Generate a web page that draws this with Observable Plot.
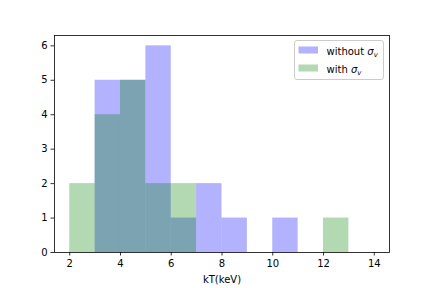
<!DOCTYPE html>
<html>
<head>
<meta charset="utf-8">
<script src="https://cdn.jsdelivr.net/npm/d3@7"></script>
<script src="https://cdn.jsdelivr.net/npm/@observablehq/plot@0.6"></script>
<style>
  html, body { margin: 0; padding: 0; background: #fff; }
  #chart svg { font-family: "DejaVu Sans", sans-serif; }
</style>
</head>
<body>
<div id="chart"></div>
<script>
// Histogram bins (left edges), width 1 keV
const binStart = [2, 3, 4, 5, 6, 7, 8, 9, 10, 11, 12, 13];
const binWidth = 1;
const withoutSigma = [0, 5, 5, 6, 1, 2, 1, 0, 1, 0, 0, 0];
const withSigma    = [2, 4, 5, 2, 2, 0, 0, 0, 0, 0, 1, 0];
const xTicks = [2, 4, 6, 8, 10, 12, 14];
const yTicks = [0, 1, 2, 3, 4, 5, 6];
const seriesNames = ["without", "with"];
const seriesColors = ["blue", "green"];
const xLabel = "kT(keV)";

const rows = (vals) => binStart.map((b, i) => ({x1: b, x2: b + binWidth, y: vals[i]})).filter(d => d.y > 0);

const plot = Plot.plot({
  width: 432,
  height: 288,
  marginLeft: 54,
  marginRight: 43,
  marginTop: 35,
  marginBottom: 36,
  style: {fontFamily: "DejaVu Sans, sans-serif", fontSize: "10px", color: "black", background: "white"},
  x: {domain: [1.4, 14.6]},
  y: {domain: [0, 6.3]},
  marks: [
    Plot.rectY(rows(withoutSigma), {x1: "x1", x2: "x2", y: "y", fill: seriesColors[0], fillOpacity: 0.3, insetLeft: 0, insetRight: 0}),
    Plot.rectY(rows(withSigma), {x1: "x1", x2: "x2", y: "y", fill: seriesColors[1], fillOpacity: 0.3, insetLeft: 0, insetRight: 0}),
    Plot.axisX(xTicks, {tickSize: 3.5, tickPadding: 3.5, label: null, fontSize: 10, strokeWidth: 0.8}),
    Plot.axisY(yTicks, {tickSize: 3.5, tickPadding: 3.5, label: null, fontSize: 10, strokeWidth: 0.8}),
    Plot.frame({stroke: "black", strokeWidth: 0.8}),
    Plot.text([xLabel], {frameAnchor: "bottom", dy: 30, fontSize: 10, fill: "black"})
  ]
});

document.getElementById("chart").appendChild(plot);

// Legend (upper right, matplotlib style)
const svg = d3.select(plot);
const lg = svg.append("g").attr("transform", "translate(294.5,40.5)")
  .attr("text-anchor", "start");
lg.append("rect").attr("width", 89).attr("height", 39).attr("rx", 2.5)
  .attr("fill", "white").attr("fill-opacity", 0.8).attr("stroke", "#cccccc").attr("stroke-width", 1);
seriesNames.forEach((name, i) => {
  const yy = 6 + i * 18;
  lg.append("rect").attr("x", 4).attr("y", yy).attr("width", 19.5).attr("height", 7)
    .attr("fill", seriesColors[i]).attr("fill-opacity", 0.3);
  const t = lg.append("text").attr("x", 32).attr("y", yy + 8)
    .attr("text-anchor", "start").attr("font-size", 10).attr("fill", "black");
  t.append("tspan").text(name + " ");
  t.append("tspan").attr("font-style", "italic").text("σ");
  t.append("tspan").attr("font-style", "italic").attr("font-size", 7).attr("dy", 2).text("v");
});
</script>
</body>
</html>
